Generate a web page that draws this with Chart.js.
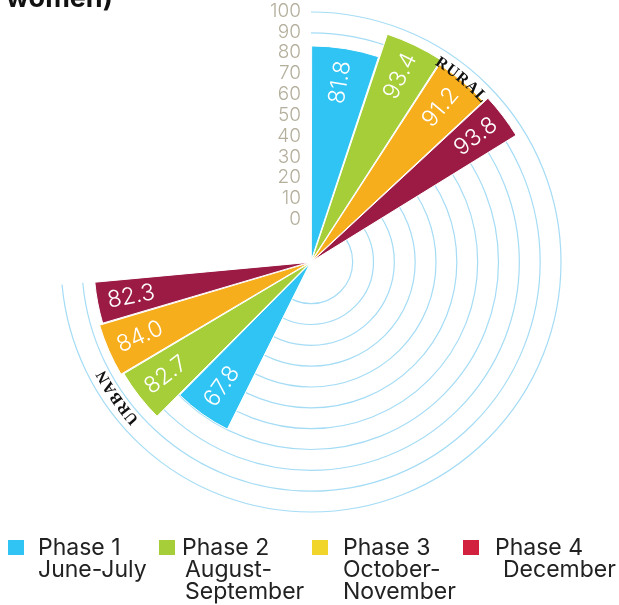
<!DOCTYPE html>
<html>
<head>
<meta charset="utf-8">
<script src="https://cdn.jsdelivr.net/npm/chart.js@4.4.1/dist/chart.umd.min.js"></script>
<style>
  html, body { margin: 0; padding: 0; background: #fff; }
  #wrap { position: relative; width: 619px; height: 605px; overflow: hidden; }
  #chart { position: absolute; left: 0; top: 0; }
  .legend-item { position: absolute; top: 536px; font-family: Inter, "Noto Sans", sans-serif; font-size: 23px; line-height: 22px; color: #222; }
  .legend-box { position: absolute; left: 0; top: 4px; width: 16px; height: 15px; }
  .legend-text { position: absolute; top: 0; white-space: pre; }
</style>
</head>
<body>
<div id="wrap">
  <canvas id="chart" width="619" height="605"></canvas>
  <div id="legend"></div>
</div>
<script>
// survey rounds, share of women (%) by area
const groups = ['RURAL', 'URBAN'];
const phases = ['Phase 1', 'Phase 2', 'Phase 3', 'Phase 4'];
const periods = ['June-July', 'August-\nSeptember', 'October-\nNovember', 'December'];
const ruralValues = [81.8, 93.4, 91.2, 93.8];
const urbanValues = [67.8, 82.7, 84.0, 82.3];
const tickValues = [0, 10, 20, 30, 40, 50, 60, 70, 80, 90, 100];

// layout of the wedges (degrees, clockwise from 12 o'clock)
const phaseSpans = [18.4, 14.5, 14.2, 11.3];
const groupStarts = [0, 206.4];
const groupLabelAngles = [39.5, 235];

const barColors = ['#2fc4f3', '#a6ce39', '#f6ae1d', '#9b1b45'];
const legendColors = ['#2fc4f3', '#a6ce39', '#f2d52a', '#d1213f'];
const legendBoxX = [8, 159, 312, 463];
const legendTextX = [38, 182, 343, 495];
const periodIndent = [0, 3, 0, 8];
const gridColor = '#a5dcf5';
const tickColor = '#b4af9c';

const groupSpan = phaseSpans.reduce((a, b) => a + b, 0);
const gapBetween = groupStarts[1] - groupStarts[0] - groupSpan;
const gapAfter = 360 - groupStarts[1] - groupSpan + groupStarts[0];

// one ring of wedges: rural, empty gap, urban, empty gap
const values = [...ruralValues, null, ...urbanValues, null];
const spans = [...phaseSpans, gapBetween, ...phaseSpans, gapAfter];
const colors = [...barColors, 'rgba(0,0,0,0)', ...barColors, 'rgba(0,0,0,0)'];
const labels = [
  ...phases.map(p => 'Rural ' + p), '',
  ...phases.map(p => 'Urban ' + p), ''
];

const toRad = d => d * Math.PI / 180;

function drawCurvedText(ctx, text, cx, cy, radius, centerDeg) {
  const widths = [...text].map(ch => ctx.measureText(ch).width + 1);
  const total = widths.reduce((a, b) => a + b, 0);
  let a = toRad(centerDeg) - total / radius / 2;
  [...text].forEach((ch, i) => {
    const mid = a + widths[i] / radius / 2;
    ctx.save();
    ctx.translate(cx, cy);
    ctx.rotate(mid);
    ctx.fillText(ch, 0, -radius);
    ctx.restore();
    a += widths[i] / radius;
  });
}

const polarDecor = {
  id: 'polarDecor',
  beforeDatasetsDraw(chart) {
    const r = chart.scales.r;
    const ctx = chart.ctx;
    const from = toRad(groupStarts[0]) - Math.PI / 2;
    const to = toRad(groupStarts[1] + groupSpan) - Math.PI / 2;
    ctx.save();
    ctx.strokeStyle = gridColor;
    ctx.lineWidth = 1.2;
    tickValues.forEach(v => {
      ctx.beginPath();
      ctx.arc(r.xCenter, r.yCenter, r.getDistanceFromCenterForValue(v), from, to);
      ctx.stroke();
    });
    ctx.fillStyle = tickColor;
    ctx.font = '300 19px Inter, "Noto Sans", sans-serif';
    ctx.textAlign = 'right';
    ctx.textBaseline = 'middle';
    tickValues.forEach(v => {
      ctx.fillText(String(v), r.xCenter - 10, r.yCenter - r.getDistanceFromCenterForValue(v) - 1);
    });
    ctx.restore();
  },
  afterDatasetsDraw(chart) {
    const ctx = chart.ctx;
    const r = chart.scales.r;
    const meta = chart.getDatasetMeta(0);
    ctx.save();
    // value labels, running along each wedge near its tip
    ctx.fillStyle = '#fff';
    ctx.font = '300 23px Inter, "Noto Sans", sans-serif';
    ctx.textAlign = 'center';
    ctx.textBaseline = 'middle';
    meta.data.forEach((arc, i) => {
      const v = values[i];
      if (v === null) return;
      const p = arc.getProps(['x', 'y', 'startAngle', 'endAngle', 'outerRadius']);
      const mid = (p.startAngle + p.endAngle) / 2;
      const dist = p.outerRadius - 30;
      const x = p.x + Math.cos(mid) * dist;
      const y = p.y + Math.sin(mid) * dist;
      ctx.save();
      ctx.translate(x, y);
      ctx.rotate(Math.cos(mid) < 0 ? mid - Math.PI : mid);
      ctx.fillText(v.toFixed(1), 0, 0);
      ctx.restore();
    });
    // area names bent along the outer ring
    ctx.fillStyle = '#111';
    ctx.font = 'bold 16px "Liberation Serif", "DejaVu Serif", serif';
    ctx.textAlign = 'center';
    ctx.textBaseline = 'alphabetic';
    groups.forEach((g, i) => drawCurvedText(ctx, g, r.xCenter, r.yCenter, 233, groupLabelAngles[i]));
    // tail of the heading above the chart
    ctx.textAlign = 'left';
    ctx.font = 'bold 27px Inter, "Noto Sans", sans-serif';
    ctx.fillText('women)', 6, 7);
    ctx.restore();
  }
};

new Chart(document.getElementById('chart'), {
  type: 'polarArea',
  data: {
    labels: labels,
    datasets: [{
      data: values,
      backgroundColor: colors,
      borderColor: '#fff',
      borderWidth: ctx => values[ctx.dataIndex] === null ? 0 : 1,
      angle: ctx => spans[ctx.dataIndex],
      offset: 8
    }]
  },
  options: {
    responsive: false,
    animation: false,
    layout: { padding: { left: 61, right: 58, top: 12, bottom: 93 } },
    plugins: { legend: { display: false }, tooltip: { enabled: false } },
    scales: {
      r: {
        min: -20,
        max: 100,
        startAngle: 0,
        grid: { display: false },
        angleLines: { display: false },
        pointLabels: { display: false },
        ticks: { display: false }
      }
    }
  },
  plugins: [polarDecor]
});

// legend row under the chart
const legend = document.getElementById('legend');
phases.forEach((p, i) => {
  const item = document.createElement('div');
  item.className = 'legend-item';
  item.style.left = legendBoxX[i] + 'px';
  const box = document.createElement('div');
  box.className = 'legend-box';
  box.style.background = legendColors[i];
  const text = document.createElement('div');
  text.className = 'legend-text';
  text.style.left = (legendTextX[i] - legendBoxX[i]) + 'px';
  const head = document.createElement('div');
  head.textContent = p;
  const sub = document.createElement('div');
  sub.style.paddingLeft = periodIndent[i] + 'px';
  sub.textContent = periods[i];
  text.appendChild(head);
  text.appendChild(sub);
  item.appendChild(box);
  item.appendChild(text);
  legend.appendChild(item);
});
</script>
</body>
</html>
